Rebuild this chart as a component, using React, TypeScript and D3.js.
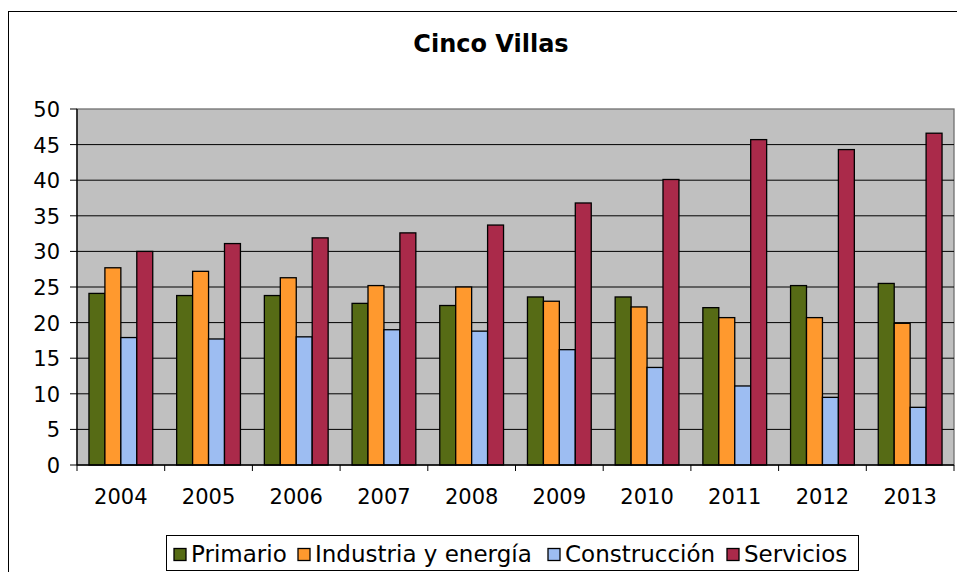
import React from "react";
import * as d3 from "d3";

const years = ["2004","2005","2006","2007","2008","2009","2010","2011","2012","2013"];
const seriesNames = ["Primario", "Industria y energía", "Construcción", "Servicios"];
const primario = [24.1, 23.8, 23.8, 22.7, 22.4, 23.6, 23.6, 22.1, 25.2, 25.5];
const industria = [27.7, 27.2, 26.3, 25.2, 25.0, 23.0, 22.2, 20.7, 20.7, 19.9];
const construccion = [17.9, 17.7, 18.0, 19.0, 18.8, 16.2, 13.7, 11.1, 9.5, 8.1];
const servicios = [30.0, 31.1, 31.9, 32.6, 33.7, 36.8, 40.1, 45.7, 44.3, 46.6];
const yTicks = [0, 5, 10, 15, 20, 25, 30, 35, 40, 45, 50];
const colors = ["#566B15", "#FF992E", "#9DBDF2", "#AA2A4A"];

const W = 957, H = 572;
const plot = { left: 77, right: 954, top: 109, bottom: 465 };
const font = "'DejaVu Sans', Verdana, sans-serif";

export default function App() {
  const series = [primario, industria, construccion, servicios];
  const x = d3.scaleBand<string>().domain(years).range([plot.left, plot.right]).padding(0);
  const inner = d3.scaleBand<number>().domain([0, 1, 2, 3]).range([0, x.step()]).paddingInner(0).paddingOuter(0.75);
  const y = d3.scaleLinear().domain([0, 50]).range([plot.bottom, plot.top]);

  const legendItems = [
    { x: 174, tx: 191 },
    { x: 298, tx: 315 },
    { x: 548, tx: 565 },
    { x: 727, tx: 744 },
  ];

  return (
    <svg width={W} height={H} style={{ position: "absolute", left: 0, top: 0, display: "block", background: "#fff" }} fontFamily={font}>
      <rect x={8.5} y={11.5} width={1000} height={700} fill="#fff" stroke="#000" strokeWidth={1} />
      <text x={491} y={52} textAnchor="middle" fontSize={24} fontWeight="bold" fill="#000">Cinco Villas</text>
      <rect x={plot.left} y={plot.top} width={plot.right - plot.left} height={plot.bottom - plot.top} fill="#C0C0C0" stroke="#707070" strokeWidth={1.3} />
      {yTicks.map((t) => (
        <g key={t}>
          {t > 0 && t < 50 && <line x1={plot.left} x2={plot.right} y1={y(t)} y2={y(t)} stroke="#000" strokeWidth={1} />}
          <line x1={70} x2={plot.left} y1={y(t)} y2={y(t)} stroke="#000" strokeWidth={1} />
          <text x={60} y={y(t) + 8} textAnchor="end" fontSize={21} fill="#000">{t}</text>
        </g>
      ))}
      {years.map((yr, i) => (
        <g key={yr}>
          {series.map((s, k) => (
            <rect key={k} x={(x(yr) as number) + (inner(k) as number)} y={y(s[i])} width={inner.bandwidth()} height={y(0) - y(s[i])}
              fill={colors[k]} stroke="#000" strokeWidth={1.3} />
          ))}
          <text x={(x(yr) as number) + x.bandwidth() / 2} y={504} textAnchor="middle" fontSize={21} fill="#000">{yr}</text>
        </g>
      ))}
      {[...years.map((yr) => x(yr) as number), plot.right].map((v, i) => (
        <line key={i} x1={v} x2={v} y1={plot.bottom} y2={plot.bottom + 6} stroke="#000" strokeWidth={1} />
      ))}
      <line x1={plot.left} x2={plot.left} y1={plot.top} y2={plot.bottom} stroke="#000" strokeWidth={1.3} />
      <line x1={plot.left} x2={plot.right} y1={plot.bottom} y2={plot.bottom} stroke="#000" strokeWidth={1.3} />
      <rect x={166.5} y={535.5} width={692} height={35} fill="#fff" stroke="#000" strokeWidth={1} />
      {seriesNames.map((n, k) => (
        <g key={n}>
          <rect x={legendItems[k].x} y={548.5} width={12} height={12} fill={colors[k]} stroke="#000" strokeWidth={1.3} />
          <text x={legendItems[k].tx} y={561.5} fontSize={23} fill="#000">{n}</text>
        </g>
      ))}
    </svg>
  );
}
